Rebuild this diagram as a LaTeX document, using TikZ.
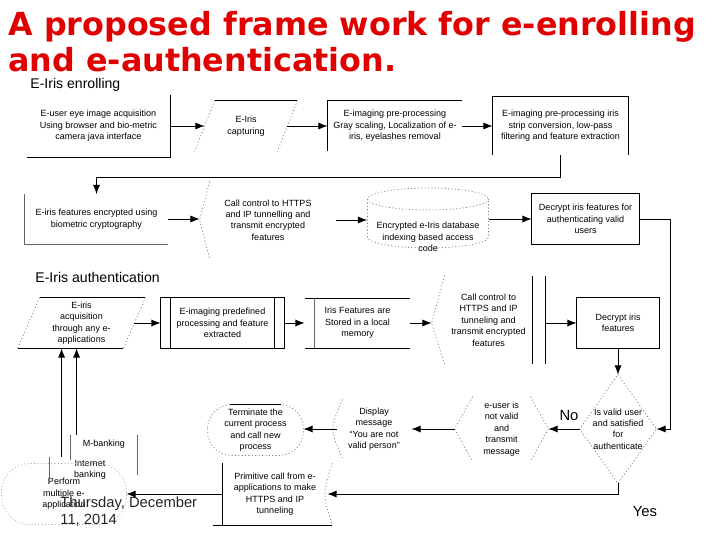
\documentclass[tikz,border=0pt]{standalone}
\usepackage{fontspec}
\setmainfont{Liberation Sans}
\newfontfamily\titlefont{DejaVu Sans}
\usetikzlibrary{arrows.meta}
\definecolor{titlered}{RGB}{224,0,0}
\definecolor{edgegray}{RGB}{100,100,100}

\begin{document}
\begin{tikzpicture}[x=0.025cm,y=-0.025cm,line width=0.6pt,
  >={Latex[length=6.5pt,width=5pt]},
  shp/.style 2 args={minimum width=#1*\px,minimum height=#2*\px,inner sep=0pt,
    align=center,font=\fontsize{6.4}{8.1}\selectfont},
  dotline/.style={line width=0.5pt,gray,dash pattern=on 0.8pt off 1.6pt},
  head/.style={font=\fontsize{10}{12}\selectfont,inner sep=0pt},
  lbl/.style={font=\fontsize{10.5}{12.5}\selectfont,inner sep=0pt}]

\def \px{0.025cm}
\useasboundingbox (0,0) rectangle (720,540);

\node[anchor=north west,inner sep=0pt,align=left,text=titlered,
  font=\titlefont\bfseries\fontsize{22.6}{25.6}\selectfont] (title) at (8,11)
  {A proposed frame work for e-enrolling\\and e-authentication.};
\node[head,anchor=west] (enrollhd) at (30,85) {E-Iris enrolling};
\node[head,anchor=west] (authhd) at (35,277) {E-Iris authentication};

% enrolling, first row
\node[shp={143}{62}] (eye) at (98.5,126) {E-user eye image acquisition\\Using browser and bio-metric\\camera java interface};
\node[shp={82}{50}] (capt) at (246,126) {E-Iris\\capturing};
\node[shp={134}{50}] (grey) at (395,126) {E-imaging pre-processing\\Gray scaling, Localization of e-\\iris, eyelashes removal};
\node[shp={135}{58}] (strip) at (560.5,126) {E-imaging pre-processing iris\\strip conversion, low-pass\\filtering and feature extraction};

\draw (eye.north east) -- (eye.south east) -- (eye.south west);
\draw ([shift={(10,0)}]capt.north west) -- ([shift={(10,0)}]capt.north east);
\draw[dotline] ([shift={(10,0)}]capt.north west) -- ([shift={(-10,0)}]capt.south west)
  ([shift={(10,0)}]capt.north east) -- ([shift={(-10,0)}]capt.south east);
\draw (grey.south west) -- (grey.north west) -- (grey.north east);
\draw (strip.south west) -- (strip.north west) -- (strip.north east) -- (strip.south east);

\draw[->] (eye.east) -- (capt.west);
\draw[->] (capt.east) -- (grey.west);
\draw[->] (grey.east) -- (strip.west);

% enrolling, second row
\node[shp={143}{49}] (encr) at (96.5,219) {E-iris features encrypted using\\biometric cryptography};
\node[shp={136}{76}] (call1) at (268,220) {Call control to HTTPS\\and IP tunnelling and\\transmit encrypted\\features};
\node[shp={121}{34}] (dbase) at (428,237) {Encrypted e-Iris database\\indexing based access\\code};
\node[shp={107}{50}] (decr1) at (585.5,219) {Decrypt iris features for\\authenticating valid\\users};

\draw[edgegray] (encr.north west) -- (encr.south west) -- (encr.south east);
\draw[dotline] ([shift={(10,0)}]call1.north west) -- (call1.west) -- ([shift={(10,0)}]call1.south west);
\draw[dotline] ([shift={(0,-38)}]dbase.center) ellipse [x radius=60.5,y radius=11];
\draw[dotline] ([shift={(-60.5,-38)}]dbase.center) -- ([shift={(-60.5,0)}]dbase.center)
  arc[start angle=180,end angle=0,x radius=60.5,y radius=11] -- ([shift={(60.5,-38)}]dbase.center);
\draw (decr1.north west) rectangle (decr1.south east);

\draw[->] (strip.south) -- ++(0,22) -| (encr.north);
\draw[->] (encr.east) -- (encr.east -| call1.west);
\draw[->] (call1.east) -- (call1.east -| dbase.west);
\draw[->] (decr1.west -| dbase.east) -- (decr1.west);

% authentication
\node[shp={105}{50}] (acq) at (81.5,323) {E-iris\\acquisition\\through any e-\\applications};
\node[shp={123}{50}] (predef) at (222.5,323) {E-imaging predefined\\processing and feature\\extracted};
\node[shp={105}{49}] (store) at (357.5,323) {Iris Features are\\Stored in a local\\memory};
\node[shp={113}{88}] (call2) at (488.5,320) {Call control to\\HTTPS and IP\\tunneling and\\transmit encrypted\\features};
\node[shp={82}{50}] (decr2) at (618,323) {Decrypt iris\\features};

\draw ([shift={(11,0)}]acq.north west) -- ([shift={(11,0)}]acq.north east);
\draw ([shift={(-11,0)}]acq.south west) -- ([shift={(-11,0)}]acq.south east);
\draw[dotline] ([shift={(11,0)}]acq.north west) -- ([shift={(-11,0)}]acq.south west)
  ([shift={(11,0)}]acq.north east) -- ([shift={(-11,0)}]acq.south east);
\draw (predef.north west) rectangle (predef.south east);
\draw ([shift={(10,0)}]predef.north west) -- ([shift={(10,0)}]predef.south west)
  ([shift={(-10,0)}]predef.north east) -- ([shift={(-10,0)}]predef.south east);
\draw (store.north west) -- (store.north east) (store.south west) -- (store.south east);
\draw[edgegray] ([shift={(10,0)}]store.north west) -- ([shift={(10,0)}]store.south west);
\draw[dotline] ([shift={(13,0)}]call2.north west) -- ([shift={(0,3)}]call2.west) -- ([shift={(13,0)}]call2.south west);
\draw (call2.north east) -- (call2.south east)
  ([shift={(-13,0)}]call2.north east) -- ([shift={(-13,0)}]call2.south east);
\draw (decr2.north west) rectangle (decr2.south east);

\draw[->] (acq.east) -- (predef.west);
\draw[->] (predef.east) -- (store.west);
\draw[->] (store.east) -- (store.east -| call2.west);
\draw[->] (decr2.west -| call2.east) -- (decr2.west);

% decision row
\node[shp={76}{108}] (valid) at (618,429) {Is valid user\\and satisfied\\for\\authenticate};
\node[lbl] (no) at (569,415) {No};
\node[shp={93}{64}] (msg) at (501.5,429) {e-user is\\not valid\\and\\transmit\\message};
\node[shp={74}{58}] (disp) at (374,429) {Display\\message\\``You are not\\valid person''};
\node[shp={95}{50}] (term) at (255.5,430) {Terminate the\\current process\\and call new\\process};

\draw[dotline] (valid.north) -- (valid.east) -- (valid.south) -- (valid.west) -- cycle;
\draw[dotline] ([shift={(18,0)}]msg.north west) -- (msg.west) -- ([shift={(18,0)}]msg.south west)
  ([shift={(-18,0)}]msg.north east) -- (msg.east) -- ([shift={(-18,0)}]msg.south east);
\draw[dotline] ([shift={(6,0)}]disp.north west) .. controls ([shift={(-7,0)}]disp.west) .. ([shift={(6,0)}]disp.south west);
\draw[dotline,rounded corners=0.6cm] (term.north west) rectangle (term.south east);
\draw ([shift={(22,0)}]term.north west) -- ([shift={(-22,0)}]term.north east);

\draw[->] (decr2.south) -- (valid.north);
\draw[->] (decr1.east) -- ++(31,0) |- (valid.east);
\draw[->] (valid.west) -- (msg.east);
\draw[->] (msg.west) -- (disp.east);
\draw[->] (disp.west) -- (disp.west -| term.east);

% bottom row
\node[shp={104}{61}] (prim) at (275,494) {Primitive call from e-\\applications to make\\HTTPS and IP\\tunneling};
\node[lbl] (yes) at (645,511) {Yes};
\node[shp={124}{60}] (perf) at (64,494) {Perform\\multiple e-\\application};
\node[shp={80}{26}] (inet) at (90,470) {Internet\\banking};
\node[shp={66}{18}] (mbank) at (104,444) {M-banking};

\draw (prim.north west) -- (prim.south west)
  ([shift={(-10,0)}]prim.south west) -- ([shift={(5,0)}]prim.south east);
\draw[dotline] ([shift={(5,0)}]prim.north east) .. controls ([shift={(-5,0)}]prim.east) .. ([shift={(5,0)}]prim.south east);
\draw[dotline,gray!60,rounded corners=0.7cm] (perf.north west) rectangle (perf.south east);
\draw[edgegray] (inet.north west) -- (inet.south west);
\draw[edgegray] (mbank.north west) -- ++(0,25) (mbank.north east) -- ++(0,40);

\draw[->] (valid.south) |- (prim.east);
\draw[->] (prim.west) -- (perf.east);
\draw[->] ([shift={(12,0)}]inet.north west) -- ([shift={(12,0)}]inet.north west |- acq.south);
\draw[->] ([shift={(6,0)}]mbank.north west) -- ([shift={(6,0)}]mbank.north west |- acq.south);

\node[lbl,anchor=north west,align=left,text=black!85] (date) at (60,496) {Thursday, December\\11, 2014};

\end{tikzpicture}
\end{document}
